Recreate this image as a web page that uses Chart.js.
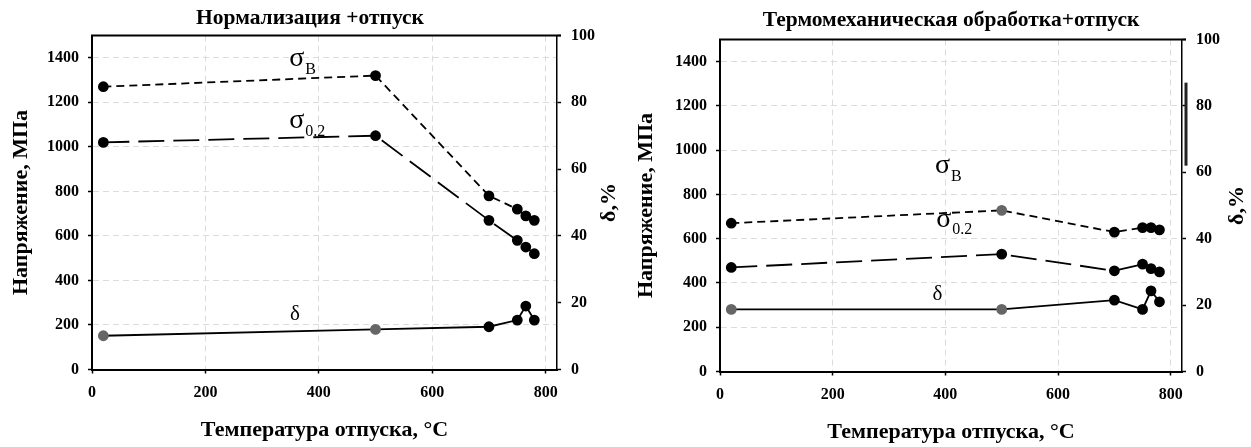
<!DOCTYPE html>
<html>
<head>
<meta charset="utf-8">
<script src="https://cdn.jsdelivr.net/npm/chart.js@4.4.0/dist/chart.umd.min.js"></script>
<style>
    body { margin: 0; background: #fff; width: 1251px; height: 447px; overflow: hidden; position: relative; }
    #c1 { position: absolute; left: 0; top: 0; }
    #c2 { position: absolute; left: 620px; top: 0; }
</style>
</head>
<body>
<canvas id="c1" width="620" height="447"></canvas>
<canvas id="c2" width="631" height="447"></canvas>
<script>
// температура отпуска, °C
var temps = [20, 500, 700, 750, 765, 780];
var xTicks = [0, 200, 400, 600, 800];
var stressTicks = [0, 200, 400, 600, 800, 1000, 1200, 1400];
var deltaTicks = [0, 20, 40, 60, 80, 100];

// Нормализация + отпуск
var normSigmaB = [1270, 1320, 780, 720, 690, 670];
var normSigma02 = [1020, 1050, 670, 580, 550, 520];
var normDelta = [10.1, 12, 12.8, 14.8, 19, 14.8];

// Термомеханическая обработка + отпуск
var tmoSigmaB = [670, 728, 630, 650, 650, 640];
var tmoSigma02 = [470, 530, 455, 485, 465, 450];
var tmoDelta = [18.7, 18.7, 21.5, 18.7, 24.3, 21];

// подписи кривых (x в °C, y в МПа)
var labelNames = ['σ', 'σ', 'δ'];
var labelSubs = ['B', '0.2', ''];
var normLabelX = [361, 361, 358];
var normLabelY = [1390, 1113, 254];
var tmoLabelX = [395, 397, 386];
var tmoLabelY = [925, 684, 355];

// черта справа на втором графике, δ %
var tmoBar = [62, 87];

var serif = '"Liberation Serif", "DejaVu Serif", serif';
var tickFont = { family: serif, size: 16, weight: 'bold' };
var axisFont = { family: serif, size: 22, weight: 'bold' };

function pts(ys) {
    return temps.map(function (t, i) { return { x: t, y: ys[i] }; });
}

function plain(v) { return String(v); }

var curveLabels = {
    id: 'curveLabels',
    afterDatasetsDraw: function (chart, args, opts) {
        var ctx = chart.ctx, sx = chart.scales.x, sy = chart.scales.y;
        ctx.save();
        ctx.fillStyle = '#000';
        ctx.textBaseline = 'alphabetic';
        for (var i = 0; i < labelNames.length; i++) {
            var px = sx.getPixelForValue(opts.xs[i]);
            var py = sy.getPixelForValue(opts.ys[i]);
            var size = labelNames[i] === 'σ' ? 28 : 21;
            var lift = labelNames[i] === 'σ' ? 0.23 : 0.35;
            ctx.font = size + 'px ' + serif;
            ctx.textAlign = 'center';
            ctx.fillText(labelNames[i], px, py + size * lift);
            if (labelSubs[i]) {
                var w = ctx.measureText(labelNames[i]).width;
                ctx.font = '16px ' + serif;
                ctx.textAlign = 'left';
                ctx.fillText(labelSubs[i], px + w / 2 + 1, py + 14);
            }
        }
        ctx.restore();
    }
};

var frameExtras = {
    id: 'frameExtras',
    afterDraw: function (chart, args, opts) {
        var a = chart.chartArea, ctx = chart.ctx, y1 = chart.scales.y1;
        ctx.save();
        ctx.strokeStyle = '#000';
        ctx.lineWidth = 2;
        ctx.beginPath();
        ctx.moveTo(a.left - 1, a.top);
        ctx.lineTo(a.right + 4, a.top);
        ctx.stroke();
        if (opts.bar) {
            ctx.lineWidth = 3;
            ctx.strokeStyle = '#222';
            ctx.beginPath();
            ctx.moveTo(a.right + 4, y1.getPixelForValue(opts.bar[0]));
            ctx.lineTo(a.right + 4, y1.getPixelForValue(opts.bar[1]));
            ctx.stroke();
        }
        // δ,% справа, снизу вверх
        ctx.translate(chart.width - opts.rightOff, (y1.top + y1.bottom) / 2);
        ctx.rotate(-Math.PI / 2);
        ctx.font = 'bold 22px ' + serif;
        ctx.fillStyle = '#000';
        ctx.textAlign = 'center';
        ctx.textBaseline = 'middle';
        ctx.fillText('δ,%', 0, 0);
        ctx.restore();
    }
};

function makeChart(id, title, sB, s02, d, lx, ly, geo) {
    var grid = { color: '#dcdcdc', lineWidth: 1, tickLength: 4, tickColor: '#000', tickWidth: 1.5 };
    var border = { color: '#000', width: 2, dash: [6, 4] };
    return new Chart(document.getElementById(id), {
        type: 'line',
        data: {
            datasets: [
                {
                    data: pts(sB), yAxisID: 'y', borderColor: '#000', borderWidth: 1.8, borderDash: [8, 5],
                    pointRadius: 4.5, pointBackgroundColor: geo.bColors, pointBorderColor: geo.bColors
                },
                {
                    data: pts(s02), yAxisID: 'y', borderColor: '#000', borderWidth: 1.8, borderDash: [26, 9],
                    pointRadius: 4.5, pointBackgroundColor: '#000', pointBorderColor: '#000'
                },
                {
                    data: pts(d), yAxisID: 'y1', borderColor: '#000', borderWidth: 1.8,
                    pointRadius: 4.5, pointBackgroundColor: geo.dColors, pointBorderColor: geo.dColors
                }
            ]
        },
        options: {
            responsive: false,
            animation: false,
            devicePixelRatio: 1,
            layout: { padding: 0 },
            plugins: {
                legend: { display: false },
                tooltip: { enabled: false },
                title: {
                    display: true, text: title, color: '#000', fullSize: geo.fullTitle,
                    font: { family: serif, size: 21.5, weight: 'bold' },
                    padding: { top: geo.titleTop, bottom: geo.titleBottom }
                },
                curveLabels: { xs: lx, ys: ly },
                frameExtras: { bar: geo.bar, rightOff: geo.rightOff }
            },
            scales: {
                x: {
                    type: 'linear', min: 0, max: 820,
                    afterBuildTicks: function (s) { s.ticks = xTicks.map(function (v) { return { value: v }; }); },
                    afterFit: function (s) { s.height = geo.bottom; },
                    grid: grid, border: border,
                    ticks: { font: tickFont, color: '#000', padding: 10, maxRotation: 0, callback: plain },
                    title: { display: true, text: 'Температура отпуска, °C', font: axisFont, color: '#000', padding: { top: 0, bottom: geo.xTitlePad } }
                },
                y: {
                    type: 'linear', position: 'left', min: 0, max: 1500,
                    afterBuildTicks: function (s) { s.ticks = stressTicks.map(function (v) { return { value: v }; }); },
                    afterFit: function (s) { s.width = geo.left; },
                    grid: grid, border: border,
                    ticks: { font: tickFont, color: '#000', padding: 9, callback: plain },
                    title: { display: true, text: 'Напряжение, МПа', font: axisFont, color: '#000', padding: { top: geo.yTitlePad, bottom: 0 } }
                },
                y1: {
                    type: 'linear', position: 'right', min: 0, max: 100,
                    afterBuildTicks: function (s) { s.ticks = deltaTicks.map(function (v) { return { value: v }; }); },
                    afterFit: function (s) { s.width = geo.right; },
                    grid: { drawOnChartArea: false, tickLength: 4, tickColor: '#000', tickWidth: 1.5 },
                    border: { color: '#000', width: 1.5 },
                    ticks: { font: tickFont, color: '#000', padding: 10, callback: plain }
                }
            }
        },
        plugins: [curveLabels, frameExtras]
    });
}

makeChart('c1', 'Нормализация +отпуск', normSigmaB, normSigma02, normDelta, normLabelX, normLabelY, {
    left: 92, right: 63, bottom: 77.5, titleTop: 5.4, titleBottom: 4.3, fullTitle: true,
    xTitlePad: 3.8, yTitlePad: 8.5, rightOff: 11, bar: null,
    bColors: '#000', dColors: ['#666', '#666', '#000', '#000', '#000', '#000']
});

makeChart('c2', 'Термомеханическая обработка+отпуск', tmoSigmaB, tmoSigma02, tmoDelta, tmoLabelX, tmoLabelY, {
    left: 100, right: 69, bottom: 75.5, titleTop: 7.1, titleBottom: 6.6, fullTitle: false,
    xTitlePad: 1, yTitlePad: 12.8, rightOff: 14, bar: tmoBar,
    bColors: ['#000', '#666', '#000', '#000', '#000', '#000'], dColors: ['#666', '#666', '#000', '#000', '#000', '#000']
});
</script>
</body>
</html>
